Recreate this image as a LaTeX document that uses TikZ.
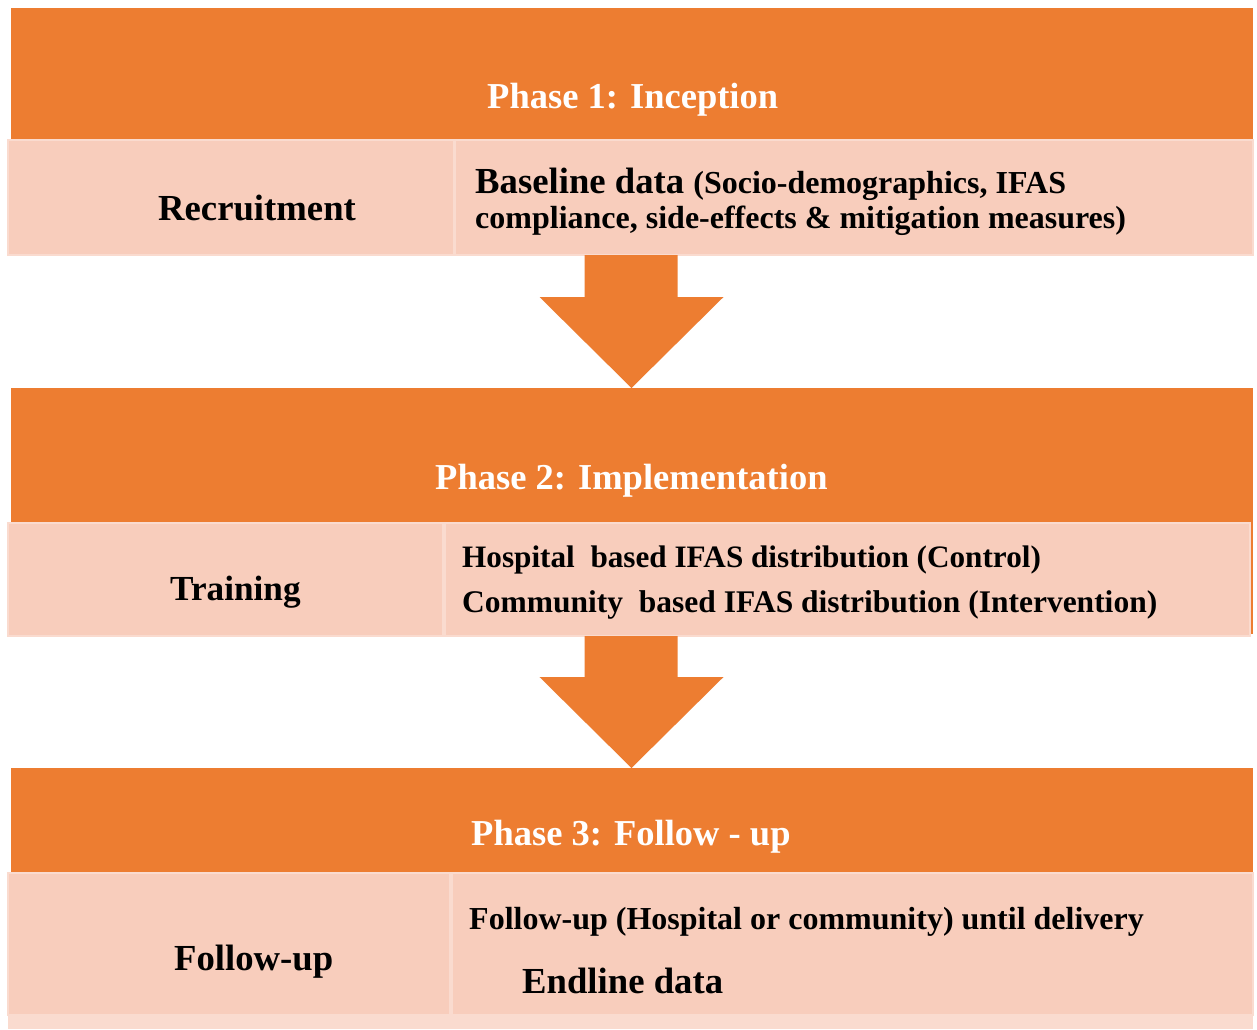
\documentclass[tikz,border=0pt]{standalone}
\usepackage{fontspec}
\setmainfont{Liberation Serif}
\definecolor{phaseorange}{HTML}{ED7D31}
\definecolor{cellpink}{HTML}{F8CDBC}
\definecolor{cellline}{HTML}{FADBCF}
\begin{document}
\begin{tikzpicture}[x=1pt,y=-1pt,
  band/.style={fill=phaseorange, inner sep=0pt, outer sep=0pt, anchor=north west, minimum width=1242pt},
  cell/.style={fill=cellpink, draw=cellline, line width=1.5pt, inner sep=0pt, outer sep=0pt, anchor=north west},
  title/.style={text=white, font=\bfseries\fontsize{36.5}{40}\selectfont, anchor=base west, inner sep=0pt},
  lbl/.style={font=\bfseries\fontsize{36.7}{40}\selectfont, anchor=base west, inner sep=0pt},
  body/.style={font=\bfseries\fontsize{32}{36}\selectfont, anchor=base west, inner sep=0pt},
  blockarrow/.style={fill=phaseorange}]
\useasboundingbox (0,0) rectangle (1257,1029);
\fill[white] (0,0) rectangle (1257,1029);

% Phase 1
\node[band, minimum height=132pt] (h1) at (10.5,8) {};
\node[cell, minimum width=446pt, minimum height=115pt] (c1l) at (8,140) {};
\node[cell, minimum width=798pt, minimum height=115pt] (c1r) at (455,140) {};

% Phase 2
\node[band, minimum height=135pt] (h2) at (10.5,388) {};
\fill[phaseorange] (h2.south east) rectangle ++(-3,111);
\node[cell, minimum width=435pt, minimum height=113pt] (c2l) at (8,523) {};
\node[cell, minimum width=805pt, minimum height=113pt] (c2r) at (445,523) {};

% Phase 3
\node[band, minimum height=105pt] (h3) at (10.5,768) {};
\node[cell, minimum width=442pt, minimum height=142pt] (c3l) at (8,873) {};
\node[cell, minimum width=801pt, minimum height=142pt] (c3r) at (452,873) {};
\fill[cellline] (c3l.south west) rectangle (1253,1029);

% Block arrows
\fill[blockarrow] (h2.north) -- ++(-92,-91) -- ++(45,0) -- ++(0,-42) -- ++(93,0) -- ++(0,42) -- ++(46,0) -- cycle;
\fill[blockarrow] (h3.north) -- ++(-92,-91) -- ++(45,0) -- ++(0,-41) -- ++(93,0) -- ++(0,41) -- ++(46,0) -- cycle;

% Texts
\node[title] (t1) at (487,108) {Phase 1: Inception};
\node[lbl] (l1) at (158,220) {Recruitment};
\node[lbl] (b1a) at (475,193) {Baseline data \fontsize{32}{36}\selectfont(Socio-demographics, IFAS};
\node[body] (b1b) at (475,228) {compliance, side-effects \& mitigation measures)};

\node[title] (t2) at (435,489) {Phase 2: Implementation};
\node[lbl, font=\bfseries\fontsize{35.2}{40}\selectfont] (l2) at (170,600) {Training};
\node[body, font=\bfseries\fontsize{31.2}{36}\selectfont] (b2a) at (462,567) {Hospital\ \ based IFAS distribution (Control)};
\node[body, font=\bfseries\fontsize{31.5}{36}\selectfont] (b2b) at (462,612) {Community\ \ based IFAS distribution (Intervention)};

\node[title] (t3) at (471,845) {Phase 3: Follow - up};
\node[lbl] (l3) at (174,970) {Follow-up};
\node[body] (b3a) at (469,929) {Follow-up (Hospital or community) until delivery};
\node[lbl] (b3b) at (522,993) {Endline data};
\end{tikzpicture}
\end{document}
